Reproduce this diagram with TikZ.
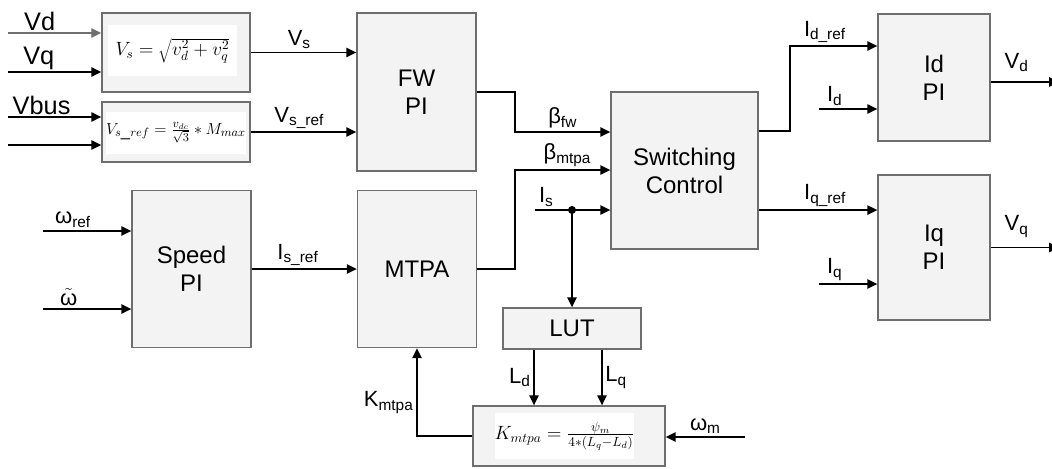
\documentclass[tikz,border=0pt]{standalone}
\usepackage{fontspec}
\setmainfont{Liberation Sans}
\usepackage{xcolor}
\usetikzlibrary{arrows.meta, positioning, calc}

\definecolor{boxfill}{HTML}{F3F3F3}
\definecolor{boxdraw}{HTML}{6E6E6E}
\definecolor{linegray}{HTML}{707070}

\begin{document}
\begin{tikzpicture}[
  x=0.75pt, y=-0.75pt,
  blk/.style={rectangle, draw=boxdraw, fill=boxfill, line width=1pt, align=center,
              inner sep=0pt, font=\fontsize{18}{21}\selectfont},
  frm/.style={rectangle, fill=white, inner sep=0pt, align=center},
  sig/.style={-{Triangle[length=7.5pt, width=7pt]}, line width=1.2pt},
  lbl/.style={font=\fontsize{16.5}{18}\selectfont, inner sep=2pt},
  lblbig/.style={font=\fontsize{19}{21}\selectfont, inner sep=1pt},
]
  \useasboundingbox (0,0) rectangle (1052,468);

  % Blocks
  \node[blk, minimum width=111pt, minimum height=59.25pt] (vsbox) at (176,52.5) {};
  \node[frm, minimum width=97pt, minimum height=38pt, font=\fontsize{14.5}{16}\selectfont]
       (vsfrm) at (172.5,50.5) {$V_s = \sqrt{v_d^2 + v_q^2}$};
  \node[blk, minimum width=111pt, minimum height=45pt] (vrefbox) at (176,132) {};
  \node[frm, minimum width=103pt, minimum height=32pt, font=\fontsize{12.5}{14}\selectfont]
       (vreffrm) at (176,133) {$V_{s\_ref} = \frac{v_{dc}}{\sqrt{3}} * M_{max}$};
  \node[blk, minimum width=89.25pt, minimum height=118.5pt] (fw) at (416.5,92) {FW\\PI};
  \node[blk, minimum width=89.25pt, minimum height=117.75pt] (speed) at (191.5,269) {Speed\\PI};
  \node[blk, minimum width=89.25pt, minimum height=117.75pt] (mtpa) at (417,269) {MTPA};
  \node[blk, minimum width=110.25pt, minimum height=117.75pt] (sw) at (684.5,170.5) {Switching\\Control};
  \node[blk, minimum width=103.5pt, minimum height=30.75pt] (lut) at (572,328.5) {LUT};
  \node[blk, minimum width=144pt, minimum height=45pt] (kbox) at (569,436) {};
  \node[frm, minimum width=104pt, minimum height=34.5pt, font=\fontsize{14}{16}\selectfont]
       (kfrm) at (564.5,436) {$K_{mtpa} = \frac{\psi_m}{4*(L_q - L_d)}$};
  \node[blk, minimum width=84pt, minimum height=95.25pt] (idpi) at (934,77.5) {Id\\PI};
  \node[blk, minimum width=84pt, minimum height=108.75pt] (iqpi) at (934,247.5) {Iq\\PI};

  % Free ends
  \coordinate (vdin) at (8,33);
  \coordinate (vqin) at (8,72);
  \coordinate (vbin) at (8,117);
  \coordinate (v4in) at (8,145);
  \coordinate (wrefin) at (43,231);
  \coordinate (wtin) at (43,309);
  \coordinate (fwj) at (515,132);
  \coordinate (mtj) at (515,170);
  \coordinate (isin) at (535,210);
  \coordinate (ldx) at (534,380);
  \coordinate (lqx) at (602,380);
  \coordinate (wmin) at (745,437);
  \coordinate (idj) at (790,46);
  \coordinate (idin) at (819,109);
  \coordinate (iqin) at (819,284);
  \coordinate (outx) at (1059,0);
  \coordinate (swo1) at ($(sw.north east)!0.25!(sw.south east)$);
  \coordinate (swo2) at ($(sw.north east)!0.75!(sw.south east)$);
  \coordinate (vdo) at ($(idpi.north east)!0.535!(idpi.south east)$);

  % Voltage side
  \draw[sig, linegray] (vdin) -- node[lblbig, above, pos=0.34, black]{Vd} (vdin -| vsbox.west);
  \draw[sig] (vqin) -- node[lblbig, above, pos=0.33]{Vq} (vqin -| vsbox.west);
  \draw[sig] (vbin) -- node[lblbig, above, pos=0.36]{Vbus} (vbin -| vrefbox.west);
  \draw[sig] (v4in) -- (v4in -| vrefbox.west);
  \draw[sig] (vsbox.east) -- node[lbl, above, pos=0.46]{V\textsubscript{s}} (vsbox.east -| fw.west);
  \draw[sig] (vrefbox.east) -- node[lbl, above, pos=0.46]{V\textsubscript{s\_ref}} (vrefbox.east -| fw.west);

  % Speed loop
  \draw[sig] (wrefin) -- node[lbl, above, pos=0.34]{ω\textsubscript{ref}} (wrefin -| speed.west);
  \draw[sig] (wtin) -- node[lbl, above, pos=0.29]{$\tilde{\mbox{ω}}$} (wtin -| speed.west);
  \draw[sig] (speed.east) -- node[lbl, above, pos=0.44]{I\textsubscript{s\_ref}} (mtpa.west);

  % Into switching control
  \draw[sig] (fw.east) -| (fwj) -- node[lbl, above, pos=0.5]{β\textsubscript{fw}} (fwj -| sw.west);
  \draw[sig] (mtpa.east) -| (mtj) -- node[lbl, above, pos=0.55]{β\textsubscript{mtpa}} (mtj -| sw.west);
  \draw[sig] (isin) -- node[lbl, above, pos=0.15]{I\textsubscript{s}} (isin -| sw.west);
  \fill (isin -| lut.north) circle (3pt);
  \draw[sig] (isin -| lut.north) -- (lut.north);

  % LUT and K_mtpa
  \draw[sig] (lut.south -| ldx) -- node[lbl, left]{L\textsubscript{d}} (kbox.north -| ldx);
  \draw[sig] (lut.south -| lqx) -- node[lbl, right]{L\textsubscript{q}} (kbox.north -| lqx);
  \draw[sig] (kbox.west) -| node[lbl, left, pos=0.69]{K\textsubscript{mtpa}} (mtpa.south);
  \draw[sig] (wmin) -- node[lbl, above, pos=0.5]{ω\textsubscript{m}} (wmin -| kbox.east);

  % Current loops
  \draw[sig] (swo1) -| (idj) -- node[lbl, above, pos=0.4]{I\textsubscript{d\_ref}} (idj -| idpi.west);
  \draw[sig] (swo2) -- node[lbl, above, pos=0.56]{I\textsubscript{q\_ref}} (swo2 -| iqpi.west);
  \draw[sig] (idin) -- node[lbl, above, pos=0.27]{I\textsubscript{d}} (idin -| idpi.west);
  \draw[sig] (iqin) -- node[lbl, above, pos=0.27]{I\textsubscript{q}} (iqin -| iqpi.west);
  \draw[sig] (vdo) -- node[lbl, above=5pt, pos=0.38]{V\textsubscript{d}} (vdo -| outx);
  \draw[sig] (iqpi.east) -- node[lbl, above=5pt, pos=0.38]{V\textsubscript{q}} (iqpi.east -| outx);
\end{tikzpicture}
\end{document}
